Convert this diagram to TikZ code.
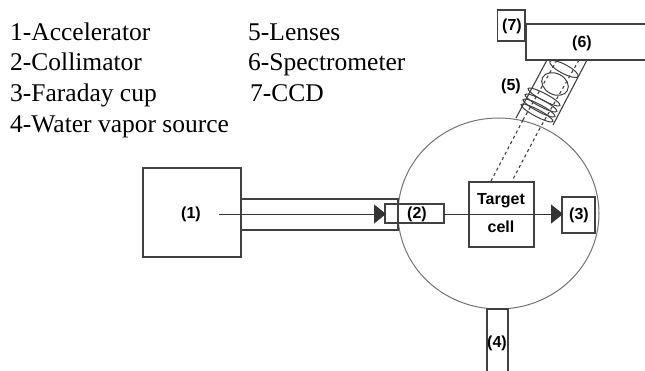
\documentclass[tikz,border=0pt]{standalone}
\usepackage{fontspec}
\setmainfont{Liberation Serif}
\newfontfamily\labelfont{Liberation Sans}
\usetikzlibrary{arrows.meta}
\tikzset{
  part/.style={draw=black!75,line width=1.1pt},
  lbl/.style={font=\labelfont\bfseries\fontsize{16}{18}\selectfont,inner sep=0pt},
  legend/.style={font=\fontsize{25.5}{28}\selectfont,anchor=base west,inner sep=0pt},
  beam/.style={draw=black!80,line width=0.9pt,-{Triangle[length=12pt,width=19pt]}},
  lens/.style={draw=black!75,line width=1pt}
}
\begin{document}
\begin{tikzpicture}[x=1pt,y=-1pt]
\useasboundingbox (0,0) rectangle (645,371);
\node[legend] (t1) at (10,41) {1-Accelerator};
\node[legend] (t2) at (10,71) {2-Collimator};
\node[legend] (t3) at (10,102) {3-Faraday cup};
\node[legend] (t4) at (10,133) {4-Water vapor source};
\node[legend] (t5) at (248,41) {5-Lenses};
\node[legend] (t6) at (248,71) {6-Spectrometer};
\node[legend] (t7) at (250,102) {7-CCD};
\draw[draw=black!55,line width=1pt] (498.5,213.5) ellipse [x radius=100.5,y radius=95.5];
\draw[part] (143,168) rectangle (241,257);
\draw[part] (241,199) rectangle (398,230);
\draw[part] (385,204) rectangle (444,223);
\draw[part] (469,182) rectangle (534,247);
\draw[part] (562,197) rectangle (595,233);
\draw[part] (487,371) -- (487,309) -- (508,309) -- (508,371);
\draw[part] (497.5,10) rectangle (525,41);
\draw[part] (645,24) -- (526,24) -- (526,60) -- (645,60);
\draw[part] (547,60) -- (516,118) (587,60) -- (553,125);
\draw[part,dashed] (523,120) -- (491,181) (540,128) -- (512,181);
\draw[part,dashed] (557,60) -- (523,120) (579,60) -- (540,128);
\draw[lens] (564,69) ellipse [x radius=16,y radius=4.5,rotate=-28];
\draw[lens] (555,84) ellipse [x radius=14,y radius=10.5,rotate=-28];
\draw[lens] (544,97) ellipse [x radius=18,y radius=3.5,rotate=-28];
\draw[lens] (541,103) ellipse [x radius=18,y radius=3.5,rotate=-28];
\draw[lens] (539,108) ellipse [x radius=18,y radius=3.5,rotate=-28];
\draw[lens] (537,113) ellipse [x radius=18,y radius=3.5,rotate=-28];
\coordinate (bs) at (219,214);
\coordinate (b1) at (386,214);
\coordinate (b2s) at (444,214);
\coordinate (b2) at (563,214);
\draw[beam] (bs) -- (b1);
\draw[beam] (b2s) -- (b2);
\node[lbl] (n1) at (191,214) {(1)};
\node[lbl] (n2) at (417,214) {(2)};
\node[lbl] (n3) at (579,215) {(3)};
\node[lbl] (n4) at (497,343) {(4)};
\node[lbl] (n5) at (511,86) {(5)};
\node[lbl] (n6) at (582,43) {(6)};
\node[lbl] (n7) at (512,26) {(7)};
\node[lbl] (nt) at (501,201) {Target};
\node[lbl] (nc) at (501,227) {cell};
\end{tikzpicture}
\end{document}
